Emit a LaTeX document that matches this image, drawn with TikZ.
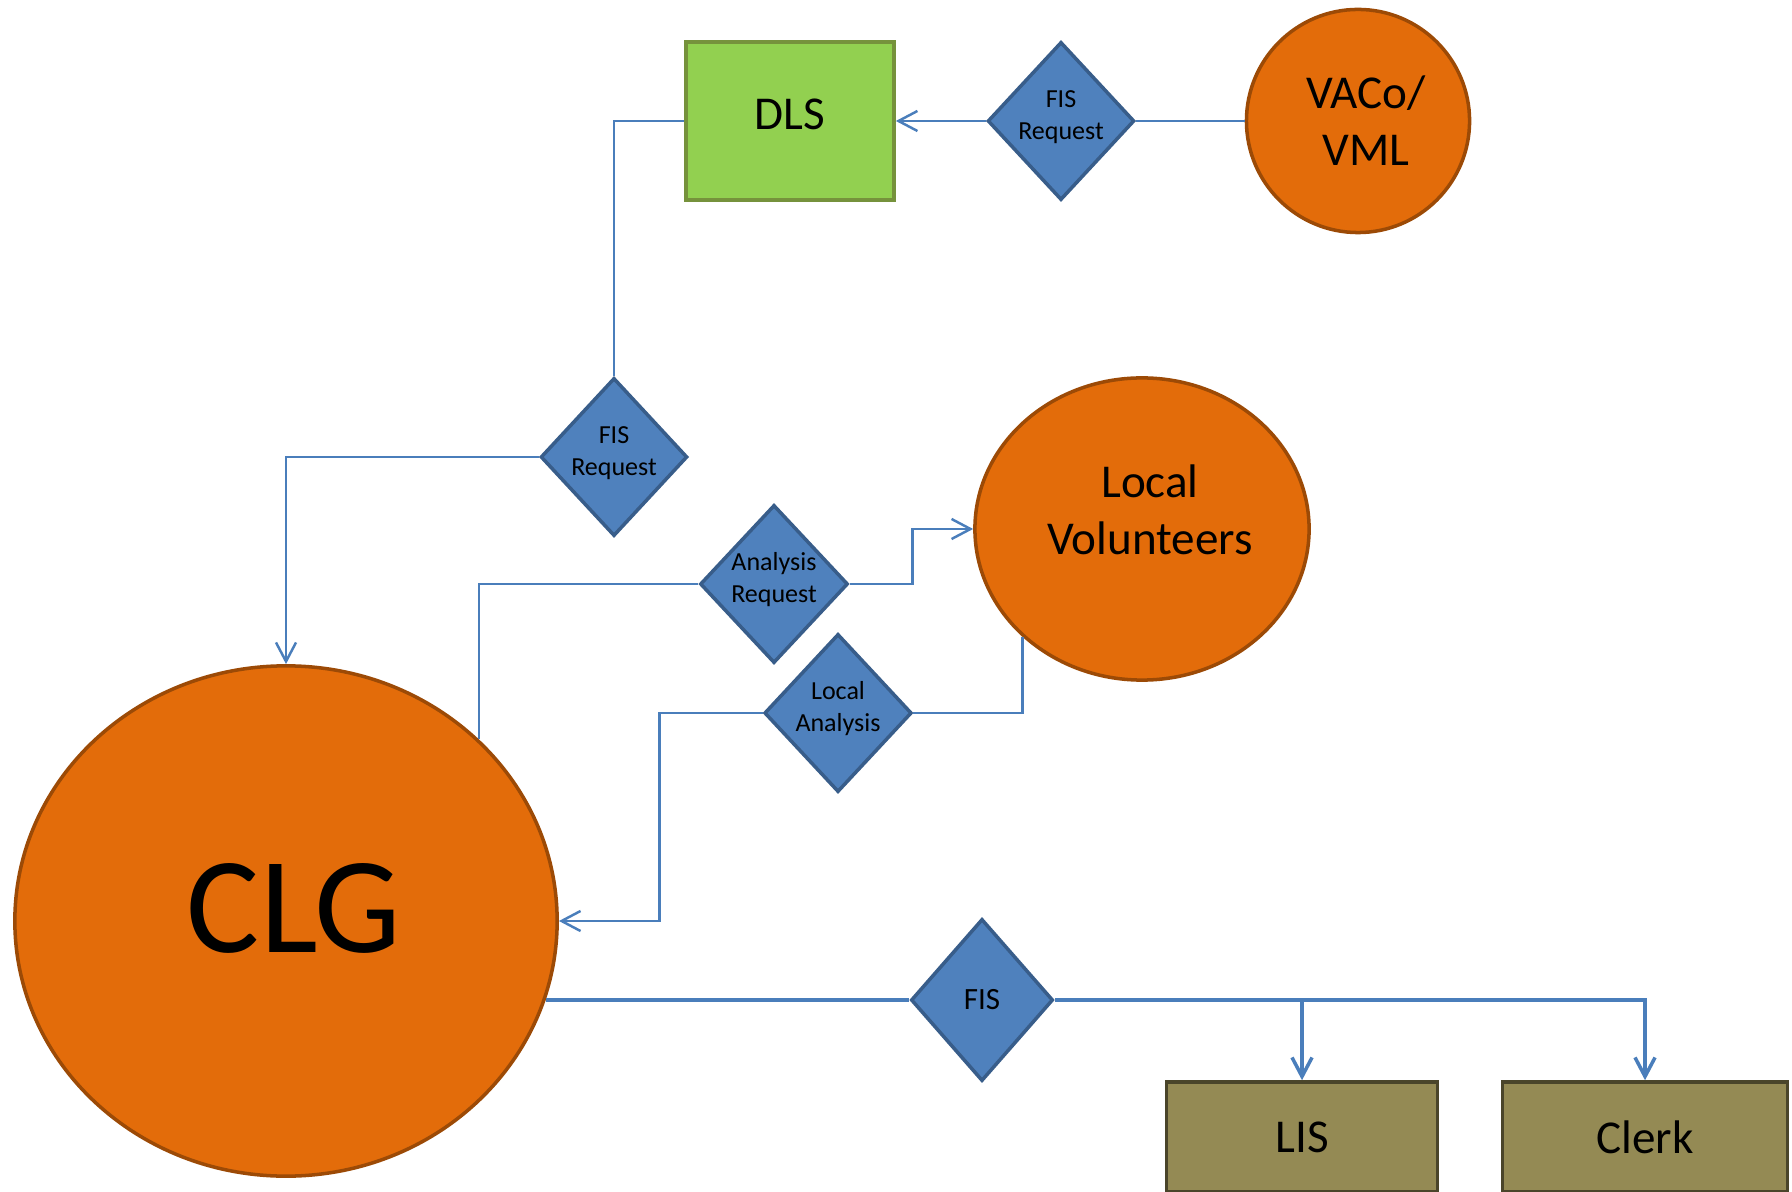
\documentclass[tikz,border=0pt]{standalone}
\usepackage{fontspec}
\setmainfont{Carlito}
\usepackage{tikz}
\usetikzlibrary{arrows.meta,shapes.geometric}

\definecolor{orgfill}{HTML}{E36C0A}
\definecolor{orgline}{HTML}{9C4A06}
\definecolor{dlsfill}{HTML}{92D050}
\definecolor{dlsline}{HTML}{76923C}
\definecolor{dmdfill}{HTML}{4F81BD}
\definecolor{dmdline}{HTML}{385D8A}
\definecolor{connline}{HTML}{4A7EBB}
\definecolor{boxfill}{HTML}{948A54}
\definecolor{boxline}{HTML}{4A452A}

% text nudges inside nodes
\newcommand{\uplift}[1]{\rule[-#1]{0pt}{0pt}}
\newcommand{\nudge}{\hspace*{0.16cm}}

\begin{document}
\begin{tikzpicture}[x=0.01cm, y=-0.01cm,
    >={Straight Barb[length=5.4pt,width=5.7pt]},
    party/.style={ellipse, draw=orgline, fill=orgfill, line width=1pt, inner sep=0pt,
      align=center, font=\fontsize{13.4}{16.2}\selectfont},
    office/.style={rectangle, line width=1pt, inner sep=0pt,
      align=center, font=\fontsize{13.4}{16.2}\selectfont},
    decision/.style={diamond, draw=dmdline, fill=dmdfill, line width=1pt, inner sep=0pt, aspect=1,
      minimum width=1.44cm, minimum height=1.58cm, align=center, font=\fontsize{7.4}{9.1}\selectfont},
    conn/.style={draw=connline, line width=0.7pt}]
    \useasboundingbox (0,0) rectangle (1792,1192);

    % top row: DLS and VACo/VML
    \node[office, draw=dlsline, fill=dlsfill, minimum width=2.08cm, minimum height=1.58cm] (dls) at (790,121) {DLS\uplift{4pt}};
    \node[decision] (fisTop) at (1061,121) {FIS\\Request\uplift{3.5pt}};
    \node[party, minimum width=2.23cm, minimum height=2.23cm] (vaco) at (1358,121) {\nudge VACo/\\\nudge VML};

    % middle: requests and volunteers
    \node[decision] (fisMid) at (614,457) {FIS\\Request\uplift{3.5pt}};
    \node[decision] (anaReq) at (774,584) {Analysis\\Request\uplift{3.5pt}};
    \node[decision] (locAna) at (838,713) {Local\\Analysis\uplift{3.5pt}};
    \node[party, minimum width=3.34cm, minimum height=3.02cm] (locvol) at (1142,529) {\nudge Local\\\nudge Volunteers\uplift{10.8pt}};

    % CLG and the FIS outputs
    \node[party, minimum width=5.42cm, minimum height=5.10cm, font=\fontsize{39}{44}\selectfont] (clg) at (286,921) {\nudge CLG\uplift{7.4pt}};
    \node[decision, minimum width=1.42cm, minimum height=1.62cm, font=\fontsize{8.8}{10}\selectfont] (fis) at (982,1000) {FIS};
    \node[office, draw=boxline, fill=boxfill, minimum width=2.71cm, minimum height=1.10cm] (lis) at (1302,1137) {LIS};
    \node[office, draw=boxline, fill=boxfill, minimum width=2.85cm, minimum height=1.10cm] (clerk) at (1645,1137) {Clerk};

    % FIS request chain
    \draw[conn, ->] (fisTop.west) -- (dls.east);
    \draw[conn] (fisTop.east) -- (vaco.west);
    \draw[conn] (dls.west) -| (fisMid.north);
    \draw[conn, ->] (fisMid.west) -| (clg.north);

    % analysis loop
    \draw[conn] (anaReq.west) -| (clg.north east);
    \draw[conn, ->] (anaReq.east) -- ++(63,0) |- (locvol.west);
    \draw[conn, ->] (locAna.west) -- ++(-103,0) |- (clg.east);
    \draw[conn] (locAna.east) -| (locvol.south west);

    % FIS to LIS and Clerk
    \draw[conn, line width=1pt] (fis.west) -- (fis.west -| clg.-17);
    \draw[conn, line width=1pt, ->] (fis.east) -| (clerk.north);
    \draw[conn, line width=1pt, ->] (fis.east -| lis.north) -- (lis.north);
\end{tikzpicture}
\end{document}
